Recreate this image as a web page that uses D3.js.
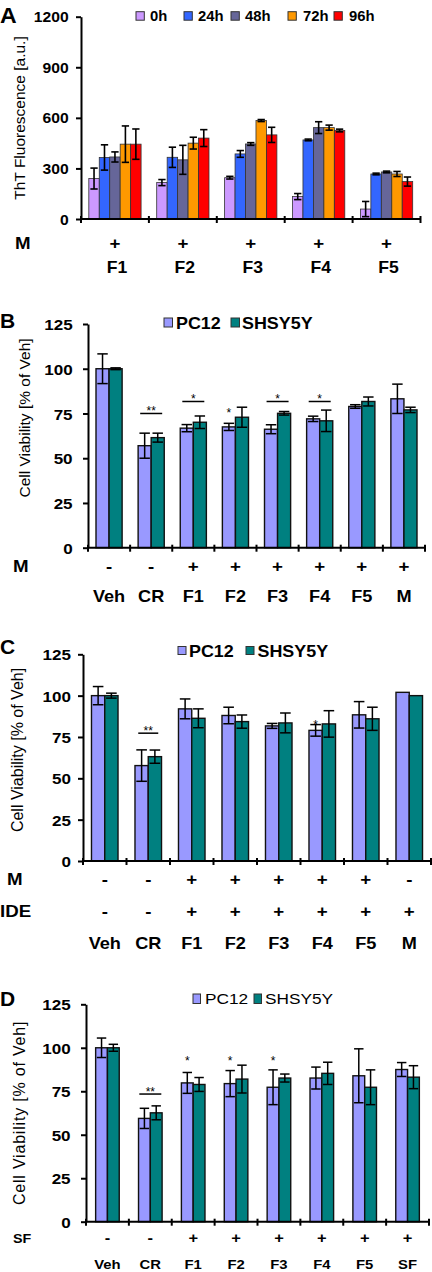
<!DOCTYPE html>
<html><head><meta charset="utf-8">
<script src="https://cdn.jsdelivr.net/npm/d3@7/dist/d3.min.js"></script>
<style>body{margin:0;background:#fff}svg{display:block}</style>
</head><body><svg id="c" width="432" height="1272"></svg>
<script>
// ---------- Panel A data ----------
const aCategories = ["F1","F2","F3","F4","F5"];
const aSeries = ["0h","24h","48h","72h","96h"];
const a0h  = [240,216,245,133,59];   const a0hErr  = [62,18,8,18,45];
const a24h = [365,366,386,469,267];  const a24hErr = [75,60,20,5,5];
const a48h = [368,351,445,542,279];  const a48hErr = [30,86,8,35,5];
const a72h = [444,450,584,542,267];  const a72hErr = [108,35,6,15,15];
const a96h = [444,480,499,525,222];  const a96hErr = [90,50,45,8,27];
const aTicks = [0,300,600,900,1200];
const aRowM = ["+","+","+","+","+"];

// ---------- Panel B data ----------
const cellSeries = ["PC12","SHSY5Y"];
const bCategories = ["Veh","CR","F1","F2","F3","F4","F5","M"];
const bPC12 = [100,57,66.8,67.5,66.2,72,78.9,83.2];
const bPC12Err = [8.3,7,2,2,2.5,1.5,1,8.2];
const bSHSY = [100,61.5,70.1,72.9,75.1,70.9,81.7,77];
const bSHSYErr = [0.5,2.5,3.5,5.6,1,6,2.5,1.5];
const bRowM = ["-","-","+","+","+","+","+","+"];
const bSigCats = ["CR","F1","F2","F3","F4"];
const bSigText = ["**","*","*","*","*"];
const bSigLevel = [75,81.7,77,81.7,81.7];
const bSigLine = [true,true,false,true,true];

// ---------- Panel C data ----------
const cCategories = ["Veh","CR","F1","F2","F3","F4","F5","M"];
const cPC12 = [100,57.7,92,88,81.7,79,88.4,102];
const cPC12Err = [5.5,9.5,6,5,1.5,3.5,8,0];
const cSHSY = [100,63.1,86.3,84.3,83.5,82.9,86,100];
const cSHSYErr = [1.5,4,5.7,4,6,8,7,0];
const cRowM = ["-","-","+","+","+","+","+","-"];
const cRowIDE = ["-","-","+","+","+","+","+","+"];
const cSigCats = ["CR","F4"];
const cSigText = ["**","*"];
const cSigLevel = [77.3,84.2];
const cSigLine = [true,false];

// ---------- Panel D data ----------
const dCategories = ["Veh","CR","F1","F2","F3","F4","F5","SF"];
const dPC12 = [100,59.4,79.8,79.4,77.3,82.6,83.9,87.5];
const dPC12Err = [5.6,5.8,6,7.5,10,6.3,15.5,4];
const dSHSY = [100,62.6,78.9,82,82.6,85.3,77.3,83.1];
const dSHSYErr = [2,4,4,8,2.3,6.4,10,6.6];
const dRowSF = ["-","-","+","+","+","+","+","+"];
const dSigCats = ["CR","F1","F2","F3"];
const dSigText = ["**","*","*","*"];
const dSigLevel = [73.4,94,94,94];
const dSigLine = [true,false,false,false];

const cellTicks = [0,25,50,75,100,125];

// ---------- drawing ----------
const svg = d3.select("#c").attr("font-family",'"Liberation Sans", Arial, Helvetica, sans-serif');

function txt(g,x,y,s,o){
  o=o||{};
  const t=g.append("text")
    .attr("transform",`translate(${x},${y})`+(o.rotate?` rotate(${o.rotate})`:"")+` scale(${o.sx||1},1)`)
    .attr("text-anchor",o.anchor||"start")
    .attr("font-size",o.size||14)
    .attr("font-weight",o.weight||"bold")
    .attr("fill","#000")
    .text(s);
  if(o.ls) t.attr("letter-spacing",o.ls);
  return t;
}

function drawPanel(o){
  const g=svg.append("g");
  const y=d3.scaleLinear().domain([0,o.max]).range([o.yBase,o.yTop]);
  const x=d3.scaleBand().domain(o.cats).range([o.x0,o.x1]).paddingInner(o.pad).paddingOuter(o.pad/2);
  const xs=d3.scaleBand().domain(o.series).range([0,x.bandwidth()]);
  const bw=xs.bandwidth();

  // bars
  o.series.forEach((s,j)=>{
    const vals=o.values[j];
    g.append("g").selectAll("rect").data(o.cats).join("rect")
      .attr("x",c=>x(c)+xs(s))
      .attr("y",(c,i)=>y(vals[i]))
      .attr("width",bw)
      .attr("height",(c,i)=>o.yBase-y(vals[i]))
      .attr("fill",o.colors[j])
      .attr("stroke",o.barStroke)
      .attr("stroke-width",o.barStrokeW);
  });
  // error bars
  o.series.forEach((s,j)=>{
    const vals=o.values[j], errs=o.errors[j];
    o.cats.forEach((c,i)=>{
      const e=errs[i]; if(!e) return;
      const cx=x(c)+xs(s)+bw/2, hi=y(vals[i]+e), lo=y(Math.max(0,vals[i]-e)), cw=bw*o.capFrac/2;
      const eg=g.append("g").attr("stroke","#000").attr("stroke-width",o.errW);
      eg.append("line").attr("x1",cx).attr("x2",cx).attr("y1",hi).attr("y2",lo);
      eg.append("line").attr("x1",cx-cw).attr("x2",cx+cw).attr("y1",hi).attr("y2",hi);
      eg.append("line").attr("x1",cx-cw).attr("x2",cx+cw).attr("y1",lo).attr("y2",lo);
    });
  });

  // y axis
  const ya=g.append("g").attr("transform",`translate(${o.x0},0)`)
    .call(d3.axisLeft(y).tickValues(o.ticks).tickFormat(d3.format("d")).tickSize(5).tickSizeOuter(0).tickPadding(o.tickPad));
  ya.select(".domain").attr("stroke","#000").attr("stroke-width",2);
  ya.selectAll(".tick line").attr("stroke","#000").attr("stroke-width",2);
  ya.selectAll(".tick text").attr("font-size",o.tickSize).attr("font-weight","bold").attr("fill","#000")
    .attr("font-family",'"Liberation Sans", Arial, sans-serif')
    .attr("transform",`scale(${o.tickSx},1)`).attr("dy","0.36em");

  // x axis line + boundary ticks
  g.append("line").attr("x1",o.x0).attr("x2",o.x1).attr("y1",o.yBase).attr("y2",o.yBase)
    .attr("stroke","#000").attr("stroke-width",2);
  const bounds=o.cats.map(c=>x(c)-x.step()*x.paddingInner()/2).concat([o.x1]);
  g.append("g").selectAll("line").data(bounds).join("line")
    .attr("x1",d=>d).attr("x2",d=>d).attr("y1",o.yBase-3).attr("y2",o.yBase+4)
    .attr("stroke","#000").attr("stroke-width",2);

  // significance
  (o.sigCats||[]).forEach((c,k)=>{
    const gc=x(c)+x.bandwidth()/2;
    if(o.sigLine[k]){
      const ly=y(o.sigLevel[k]);
      g.append("line").attr("x1",gc-o.sigW/2).attr("x2",gc+o.sigW/2).attr("y1",ly).attr("y2",ly)
        .attr("stroke","#000").attr("stroke-width",1.5);
      txt(g,gc,ly+1.5,o.sigText[k],{size:12,weight:"normal",anchor:"middle"});
    } else {
      const px=x(c)+xs(o.series[0])+bw/2;
      txt(g,px,y(o.sigLevel[k])+7,o.sigText[k],{size:12,weight:"normal",anchor:"middle"});
    }
  });

  // rows under axis
  o.rows.forEach(r=>{
    txt(g,r.lx,r.y,r.label,{size:r.labelSize,sx:1.1});
    r.signs.forEach((s,i)=>{
      txt(g,x(o.cats[i])+x.bandwidth()/2,r.y,s,{size:r.signSize,anchor:"middle",sx:1.1});
    });
  });
  o.cats.forEach(c=>{
    txt(g,x(c)+x.bandwidth()/2+o.catDx,o.catY,c,{size:o.catSize,anchor:"middle",sx:1.1});
  });

  // legend
  o.series.forEach((s,j)=>{
    const L=o.legend;
    g.append("rect").attr("x",L.sq[j]).attr("y",L.y).attr("width",L.w).attr("height",L.h)
      .attr("fill",o.colors[j]).attr("stroke","#333").attr("stroke-width",1);
    txt(g,L.tx[j],L.base,s,{size:L.size,weight:L.weight,sx:L.sx});
  });

  // y title & panel letter
  txt(g,o.titleX,o.titleY,o.title,{size:o.titleSize,weight:"normal",anchor:"middle",rotate:-90,ls:o.titleLs});
  txt(g,o.letterX,o.letterY,o.letter,{size:o.letterSize,sx:1.05});
}

const cellColors=["#9999ff","#008080"];

drawPanel({
  cats:aCategories, series:aSeries,
  values:[a0h,a24h,a48h,a72h,a96h], errors:[a0hErr,a24hErr,a48hErr,a72hErr,a96hErr],
  colors:["#cc99ff","#3366ff","#666699","#ff9900","#ff0000"],
  barStroke:"#333", barStrokeW:0.8, errW:1.6, capFrac:0.7,
  max:1200, ticks:aTicks, x0:81, x1:420.5, yBase:219, yTop:16.7, pad:0.23,
  tickSize:14, tickSx:1.12, tickPad:6,
  sigCats:[],
  rows:[{label:"M",signs:aRowM,y:248.5,lx:15,labelSize:17,signSize:17}],
  catY:273.3, catSize:16, catDx:2,
  legend:{sq:[136,184,231,288,334],tx:[150,198,245,303,349],y:11.7,w:8.3,h:8.5,base:21,size:14,weight:"bold",sx:1.06},
  title:"ThT Fluorescence [a.u.]", titleX:25, titleY:118, titleSize:15.5,
  letter:"A", letterX:0, letterY:22.5, letterSize:22
});

drawPanel({
  cats:bCategories, series:cellSeries,
  values:[bPC12,bSHSY], errors:[bPC12Err,bSHSYErr],
  colors:cellColors, barStroke:"#111", barStrokeW:1.4, errW:1.5, capFrac:0.8,
  max:125, ticks:cellTicks, x0:88, x1:425, yBase:547.7, yTop:324, pad:0.38,
  tickSize:15.5, tickSx:1.1, tickPad:9,
  sigCats:bSigCats, sigText:bSigText, sigLevel:bSigLevel, sigLine:bSigLine, sigW:22,
  rows:[{label:"M",signs:bRowM,y:572,lx:13,labelSize:17,signSize:17}],
  catY:601.5, catSize:16.5, catDx:0,
  legend:{sq:[164,231],tx:[176,242],y:318,w:8.5,h:9,base:329,size:16,weight:"bold",sx:1.12},
  title:"Cell Viability [% of Veh]", titleX:30, titleY:418, titleSize:15.5,
  letter:"B", letterX:0, letterY:327.5, letterSize:20
});

drawPanel({
  cats:cCategories, series:cellSeries,
  values:[cPC12,cSHSY], errors:[cPC12Err,cSHSYErr],
  colors:cellColors, barStroke:"#111", barStrokeW:1.4, errW:1.5, capFrac:0.8,
  max:125, ticks:cellTicks, x0:83, x1:431, yBase:861, yTop:654.3, pad:0.39,
  tickSize:15.5, tickSx:1.1, tickPad:6,
  sigCats:cSigCats, sigText:cSigText, sigLevel:cSigLevel, sigLine:cSigLine, sigW:20,
  rows:[{label:"M",signs:cRowM,y:885,lx:7,labelSize:17,signSize:17},
        {label:"IDE",signs:cRowIDE,y:917,lx:0,labelSize:17,signSize:17}],
  catY:949, catSize:16.5, catDx:0,
  legend:{sq:[178,246],tx:[189,257.5],y:646.5,w:8,h:8,base:656.5,size:16,weight:"bold",sx:1.12},
  title:"Cell Viability [% of Veh]", titleX:23, titleY:750, titleSize:16,
  letter:"C", letterX:0, letterY:654, letterSize:20
});

drawPanel({
  cats:dCategories, series:cellSeries,
  values:[dPC12,dSHSY], errors:[dPC12Err,dSHSYErr],
  colors:cellColors, barStroke:"#111", barStrokeW:1.4, errW:1.5, capFrac:0.8,
  max:125, ticks:cellTicks, x0:86, x1:429, yBase:1221.7, yTop:1004.3, pad:0.45,
  tickSize:15.5, tickSx:1.1, tickPad:9,
  sigCats:dSigCats, sigText:dSigText, sigLevel:dSigLevel, sigLine:dSigLine, sigW:22,
  rows:[{label:"SF",signs:dRowSF,y:1242.5,lx:13,labelSize:13,signSize:15}],
  catY:1268.5, catSize:13.5, catDx:0,
  legend:{sq:[193,254],tx:[205,265],y:994,w:7.5,h:9.5,base:1004,size:15,weight:"normal",sx:1.15},
  title:"Cell Viability [% of Veh]", titleX:25, titleY:1113, titleSize:16, titleLs:0.8,
  letter:"D", letterX:0, letterY:1005.5, letterSize:20
});
</script></body></html>
